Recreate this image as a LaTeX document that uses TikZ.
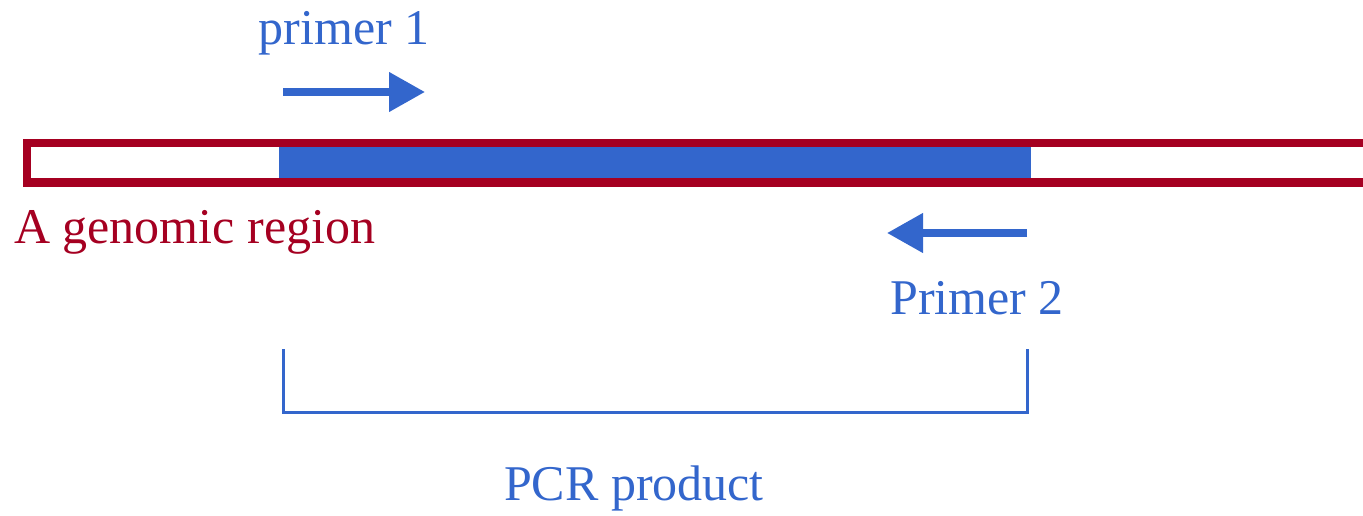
\documentclass[tikz,border=0pt]{standalone}
\usepackage{fontspec}
\setmainfont{Liberation Serif}
\usetikzlibrary{arrows.meta}
\definecolor{gred}{RGB}{165,0,33}
\definecolor{pblue}{RGB}{51,102,204}
\begin{document}
\begin{tikzpicture}[x=1pt,y=-1pt,
  lbl/.style={inner sep=0pt, font=\fontsize{50}{60}\selectfont},
  primerarrow/.style={draw=pblue, line width=7.5pt, -{Triangle[length=36pt,width=38pt]}},
  bracket/.style={draw=pblue, line width=3pt, line join=miter}]
\useasboundingbox (0,0) rectangle (1363,516);
% genomic region
\coordinate (gl) at (27,143);
\coordinate (gr) at (1390,182.5);
\fill[pblue] (279,147) rectangle (1031,178);
\draw[gred, line width=8.5pt] (gl) rectangle (gr);
% primers
\coordinate (p1s) at (283,92);
\coordinate (p1e) at (425,92);
\draw[primerarrow] (p1s) -- (p1e);
\coordinate (p2s) at (1027,233);
\coordinate (p2e) at (887,233);
\draw[primerarrow] (p2s) -- (p2e);
% bracket
\coordinate (b1) at (283,349);
\coordinate (b2) at (283,412);
\coordinate (b3) at (1027,412);
\coordinate (b4) at (1027,349);
\draw[bracket] (b1) -- (b2) -- (b3) -- (b4);
% labels
\node[lbl, text=pblue] (t1) at (344,33) {primer 1};
\node[lbl, text=gred, anchor=west] (t2) at (14,232) {A genomic region};
\node[lbl, text=pblue] (t3) at (977,298) {Primer 2};
\node[lbl, text=pblue] (t4) at (634,488) {PCR product};
\end{tikzpicture}
\end{document}
